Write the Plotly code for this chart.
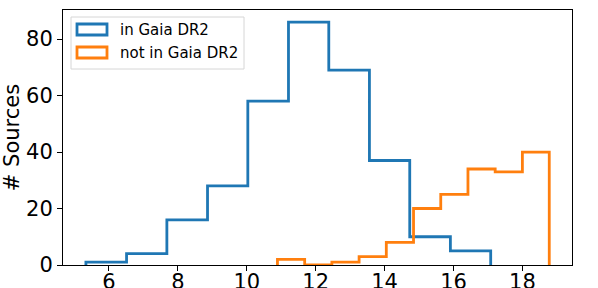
import plotly.graph_objects as go

# Histogram bin edges and counts
in_gaia_edges = [5.33, 6.51, 7.68, 8.86, 10.03, 11.21, 12.38, 13.56, 14.73, 15.91, 17.08]
in_gaia_counts = [1, 4, 16, 28, 58, 86, 69, 37, 10, 5]

not_gaia_edges = [10.89, 11.68, 12.47, 13.26, 14.05, 14.84, 15.63, 16.42, 17.21, 18.00, 18.78]
not_gaia_counts = [2, 0, 1, 3, 8, 20, 25, 34, 33, 40]

x_ticks = [6, 8, 10, 12, 14, 16, 18]
y_ticks = [0, 20, 40, 60, 80]

series = [
    ("in Gaia DR2", in_gaia_edges, in_gaia_counts, "#1f77b4"),
    ("not in Gaia DR2", not_gaia_edges, not_gaia_counts, "#ff7f0e"),
]

W, H = 598, 288
ML, MR, MT, MB = 63, 26, 10, 23
PW, PH = W - ML - MR, H - MT - MB


def px(x):
    return (x - ML) / PW


def py(y):
    return (H - MB - y) / PH


def step_outline(edges, counts):
    xs, ys = [edges[0]], [0]
    for i, c in enumerate(counts):
        xs += [edges[i], edges[i + 1]]
        ys += [c, c]
    xs.append(edges[-1])
    ys.append(0)
    return xs, ys


fig = go.Figure()
for name, edges, counts, color in series:
    xs, ys = step_outline(edges, counts)
    fig.add_trace(go.Scatter(x=xs, y=ys, mode="lines", name=name, showlegend=False,
                             line=dict(color=color, width=2.8, shape="linear"),
                             hoverinfo="skip"))

font_family = "DejaVu Sans"
tick_size = 21

# manual legend (matplotlib-style patches)
shapes = [dict(type="rect", xref="paper", yref="paper",
               x0=px(71), x1=px(244), y0=py(69), y1=py(17),
               line=dict(color="#d6d6d6", width=1), fillcolor="rgba(255,255,255,0.85)",
               layer="above")]
annotations = []
for i, (name, edges, counts, color) in enumerate(series):
    top = 24 + i * 23
    shapes.append(dict(type="rect", xref="paper", yref="paper",
                       x0=px(77), x1=px(107), y0=py(top + 11), y1=py(top),
                       line=dict(color=color, width=2.8), fillcolor="white",
                       layer="above"))
    annotations.append(dict(text=name, xref="paper", yref="paper",
                            x=px(118), y=py(top + 6), xanchor="left", yanchor="middle",
                            showarrow=False, font=dict(size=15, family=font_family, color="black")))

fig.update_layout(
    width=W, height=H,
    margin=dict(l=ML, r=MR, t=MT, b=MB, autoexpand=False),
    paper_bgcolor="white", plot_bgcolor="white",
    font=dict(family=font_family, size=tick_size, color="black"),
    showlegend=False,
    shapes=shapes, annotations=annotations,
    xaxis=dict(range=[4.665, 19.44], tickvals=x_ticks, ticktext=[str(v) for v in x_ticks],
               showgrid=False, zeroline=False, showline=True, linecolor="black",
               linewidth=1, mirror=True, ticks="outside", ticklen=5, tickcolor="black",
               tickfont=dict(size=tick_size), automargin=False, ticklabelstandoff=-7),
    yaxis=dict(range=[0, 90.3], tickvals=y_ticks, ticktext=[str(v) for v in y_ticks],
               showgrid=False, zeroline=False, showline=True, linecolor="black",
               linewidth=1, mirror=True, ticks="outside", ticklen=5, tickcolor="black",
               tickfont=dict(size=tick_size), automargin=False,
               title=dict(text="# Sources", font=dict(size=tick_size), standoff=8)),
)

fig.write_html("out.html", config={"displayModeBar": False},
               post_script="document.body.style.margin='0px';")
